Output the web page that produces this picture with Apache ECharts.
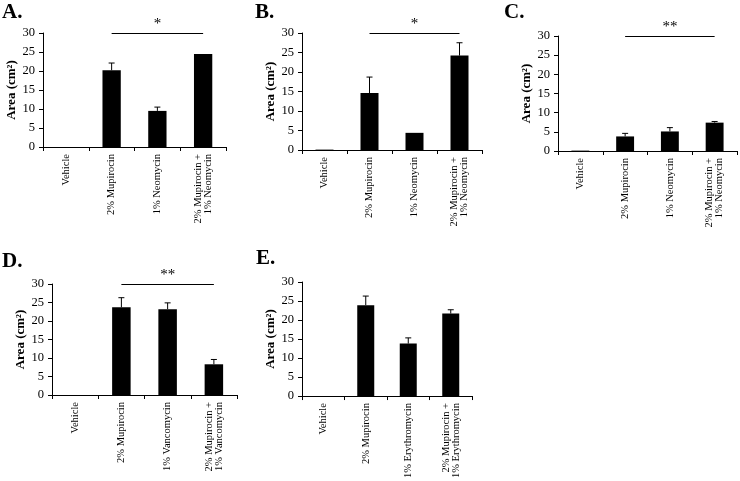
<!DOCTYPE html>
<html><head><meta charset="utf-8">
<script src="https://cdn.jsdelivr.net/npm/echarts@6/dist/echarts.min.js"></script>
<style>html,body{margin:0;padding:0;background:#fff}#c{width:740px;height:481px}</style>
</head><body><div id="c"></div>
<script>
const catsA = ['Vehicle', '2% Mupirocin', '1% Neomycin', '2% Mupirocin +\n1% Neomycin'];
const catsB = catsA;
const catsC = catsA;
const catsD = ['Vehicle', '2% Mupirocin', '1% Vancomycin', '2% Mupirocin +\n1% Vancomycin'];
const catsE = ['Vehicle', '2% Mupirocin', '1% Erythromycin', '2% Mupirocin +\n1% Erythromycin'];

const valsA = [0, 20.2, 9.5, 24.5];
const errA  = [0, 1.9, 1.0, 0];
const valsB = [0.1, 14.6, 4.4, 24.2];
const errB  = [0, 4.1, 0, 3.3];
const valsC = [0.1, 3.8, 5.1, 7.4];
const errC  = [0, 0.8, 1.0, 0.3];
const valsD = [0, 23.7, 23.2, 8.3];
const errD  = [0, 2.6, 1.7, 1.3];
const valsE = [0, 23.9, 13.8, 21.7];
const errE  = [0, 2.4, 1.5, 1.0];

const panelLabels = ['A.', 'B.', 'C.', 'D.', 'E.'];
const sigMarks = ['*', '*', '**', '**', ''];
const yTicks = [0, 5, 10, 15, 20, 25, 30];

const FONT = "'Liberation Serif', 'Times New Roman', serif";
const panels = [
  {cats: catsA, vals: valsA, err: errA, grid: {left: 43, top: 33, width: 183, height: 114}, title: {left: 2, top: 2}},
  {cats: catsB, vals: valsB, err: errB, grid: {left: 302, top: 33, width: 180, height: 117}, title: {left: 255, top: 2}},
  {cats: catsC, vals: valsC, err: errC, grid: {left: 558, top: 36, width: 179, height: 115}, title: {left: 504, top: 2}},
  {cats: catsD, vals: valsD, err: errD, grid: {left: 52, top: 284, width: 185, height: 111}, title: {left: 2, top: 251}},
  {cats: catsE, vals: valsE, err: errE, grid: {left: 302, top: 282, width: 170, height: 118}, title: {left: 256, top: 248}}
];

const option = {
  animation: false,
  backgroundColor: '#fff',
  title: [], grid: [], xAxis: [], yAxis: [], series: []
};

panels.forEach((p, i) => {
  option.title.push({text: panelLabels[i], left: p.title.left, top: p.title.top, padding: 0,
    textStyle: {fontFamily: FONT, fontSize: 21, fontWeight: 'bold', color: '#000'}});
  option.grid.push(Object.assign({containLabel: false}, p.grid));
  option.xAxis.push({type: 'category', gridIndex: i, data: p.cats,
    axisLine: {lineStyle: {color: '#000', width: 1}},
    axisTick: {show: true, length: 4, lineStyle: {color: '#000'}},
    axisLabel: {interval: 0, rotate: 90, margin: 7, color: '#000', fontFamily: FONT, fontSize: 10.5, lineHeight: 10},
    splitLine: {show: false}});
  option.yAxis.push({type: 'value', gridIndex: i, min: yTicks[0], max: yTicks[yTicks.length - 1], interval: yTicks[1] - yTicks[0],
    name: 'Area (cm²)', nameLocation: 'middle', nameRotate: 90, nameGap: 25,
    nameTextStyle: {fontFamily: FONT, fontSize: 13, fontWeight: 'bold', color: '#000'},
    axisLine: {show: true, lineStyle: {color: '#000', width: 1}},
    axisTick: {show: true, length: 4, lineStyle: {color: '#000'}},
    axisLabel: {color: '#000', fontFamily: FONT, fontSize: 12.5, margin: 8},
    splitLine: {show: false}});
  const bar = {type: 'bar', xAxisIndex: i, yAxisIndex: i, data: p.vals, barWidth: '40%',
    itemStyle: {color: '#000'}, z: 2};
  if (sigMarks[i]) {
    bar.markLine = {symbol: 'none', silent: true,
      lineStyle: {color: '#000', width: 1, type: 'solid'},
      label: {show: true, position: 'insideMiddleTop', formatter: sigMarks[i], color: '#000', fontFamily: FONT, fontSize: 15, distance: 1},
      data: [[{coord: [p.cats[1], 30]}, {coord: [p.cats[3], 30]}]]};
  }
  option.series.push(bar);
  option.series.push({type: 'custom', xAxisIndex: i, yAxisIndex: i, z: 3,
    data: p.vals.map((v, k) => [k, v, p.err[k]]),
    renderItem: function (params, api) {
      const e = api.value(2);
      if (!e) return null;
      const base = api.coord([api.value(0), api.value(1)]);
      const top = api.coord([api.value(0), api.value(1) + e]);
      const st = {stroke: '#000', lineWidth: 1};
      return {type: 'group', children: [
        {type: 'line', shape: {x1: base[0], y1: base[1], x2: top[0], y2: top[1]}, style: st},
        {type: 'line', shape: {x1: top[0] - 3, y1: top[1], x2: top[0] + 3, y2: top[1]}, style: st}
      ]};
    }});
});

const chart = echarts.init(document.getElementById('c'), null, {renderer: 'canvas'});
chart.setOption(option);
</script></body></html>
